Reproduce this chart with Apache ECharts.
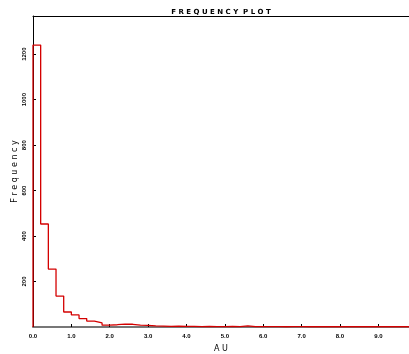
<!DOCTYPE html>
<html>
<head>
<meta charset="utf-8">
<script src="https://cdn.jsdelivr.net/npm/echarts@6/dist/echarts.min.js"></script>
<style>
  html, body { margin: 0; padding: 0; background: #fff; }
  #chart { width: 409px; height: 354px; }
</style>
</head>
<body>
<div id="chart"></div>
<script>
  // histogram bins, width 0.2 AU, starting at 0.0
  var binWidth = 0.2;
  var counts = [1240, 453, 255, 136, 66, 53, 37, 26, 18, 8,
                10, 13, 12, 8, 7, 5, 4, 3, 4, 3,
                3, 2, 3, 2, 2, 3, 2, 5, 2, 2,
                2, 2, 1, 2, 2, 1, 2, 1, 1, 2,
                1, 1, 2, 1, 1, 1, 1, 1, 1];
  var xTicks = [0, 1, 2, 3, 4, 5, 6, 7, 8, 9];
  var yTicks = [200, 400, 600, 800, 1000, 1200];

  // step line points: left edge of each bin, plus closing right edge
  var stepData = [[0, 0]];
  for (var i = 0; i < counts.length; i++) {
    stepData.push([+(i * binWidth).toFixed(1), counts[i]]);
  }
  stepData.push([+(counts.length * binWidth).toFixed(1), counts[counts.length - 1]]);

  var chart = echarts.init(document.getElementById('chart'));
  chart.setOption({
    animation: false,
    title: {
      text: 'F R E Q U E N C Y  P L O T',
      left: 216,
      textAlign: 'center',
      top: 4,
      textStyle: { fontSize: 7, fontWeight: 'bold', color: '#000', fontFamily: 'DejaVu Sans' }
    },
    grid: { left: 33, right: 0, top: 16, bottom: 27, outerBoundsMode: 'none', containLabel: false },
    xAxis: [{
      type: 'value',
      min: 0,
      max: 9.8,
      interval: 1,
      name: 'A U',
      nameLocation: 'middle',
      nameGap: 18,
      nameMoveOverlap: false,
      nameTextStyle: { fontSize: 8, color: '#000', fontFamily: 'DejaVu Sans' },
      axisLine: { lineStyle: { color: '#777', width: 2 } },
      axisTick: { inside: true, length: 3, lineStyle: { color: '#000' } },
      splitLine: { show: false },
      axisLabel: {
        showMaxLabel: false,
        margin: 6,
        fontSize: 6,
        fontWeight: 'bold',
        color: '#000',
        formatter: function (v) { return xTicks.indexOf(v) >= 0 ? v.toFixed(1) : ''; }
      }
    }, {
      type: 'value',
      position: 'top',
      min: 0,
      max: 9.8,
      axisLine: { show: true, lineStyle: { color: '#000', width: 1 } },
      axisTick: { show: false },
      axisLabel: { show: false },
      splitLine: { show: false }
    }],
    yAxis: {
      type: 'value',
      min: 0,
      max: 1368,
      interval: 200,
      name: 'F r e q u e n c y',
      nameLocation: 'middle',
      nameGap: 14,
      nameMoveOverlap: false,
      nameTextStyle: { fontSize: 8, color: '#000', fontFamily: 'DejaVu Sans' },
      axisLine: { show: true, lineStyle: { color: '#000', width: 1 } },
      axisTick: { inside: true, length: 3, lineStyle: { color: '#000' } },
      splitLine: { show: false },
      axisLabel: {
        rotate: 90,
        margin: 6,
        fontSize: 6,
        fontWeight: 'bold',
        color: '#000',
        showMinLabel: false,
        showMaxLabel: false,
        formatter: function (v) { return yTicks.indexOf(v) >= 0 ? String(v) : ''; }
      }
    },
    series: [{
      type: 'line',
      step: 'end',
      data: stepData,
      symbol: 'none',
      lineStyle: { color: '#d40000', width: 1.3 },
      clip: true
    }]
  });
</script>
</body>
</html>
